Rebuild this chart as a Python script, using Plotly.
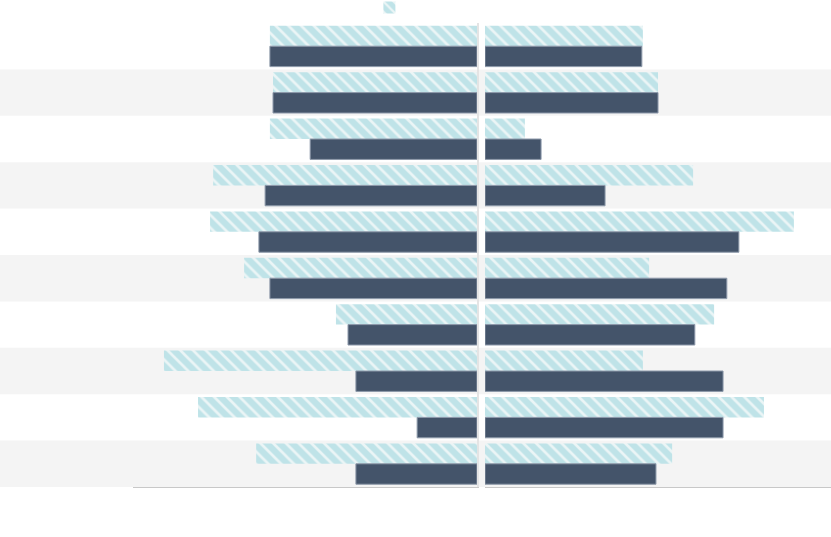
import plotly.graph_objects as go

# ---- data (no labels are shown in the chart) ----
categories = ["Row 1", "Row 2", "Row 3", "Row 4", "Row 5",
              "Row 6", "Row 7", "Row 8", "Row 9", "Row 10"]

left_hatched = [60.2, 59.3, 60.2, 76.7, 77.6, 67.7, 41.0, 91.0, 81.1, 64.2]
left_solid = [60.2, 59.3, 48.5, 61.6, 63.4, 60.2, 37.5, 35.2, 17.4, 35.2]
right_hatched = [45.9, 50.3, 11.6, 60.5, 89.8, 47.7, 66.6, 45.9, 81.1, 54.4]
right_solid = [45.6, 50.3, 16.3, 34.9, 73.8, 70.3, 61.0, 69.2, 69.2, 49.7]

# ---- styles ----
HATCH_BG = "#bfe3e8"
HATCH_FG = "#ebf5f6"
SOLID = "#44546a"
SOLID_LINE = "#8d99aa"
BAND = "#f4f4f4"
AXIS = "#c8c8c8"

W, H = 831, 537
T, B = 23, 50
PH = H - T - B

hatch_marker = dict(
    color=HATCH_BG,
    line=dict(width=0),
    pattern=dict(shape="\\", fillmode="replace", bgcolor=HATCH_BG,
                 fgcolor=HATCH_FG, size=9, solidity=0.3),
)
solid_marker = dict(color=SOLID, line=dict(color=SOLID_LINE, width=1))

fig = go.Figure()
fig.add_trace(go.Bar(y=categories, x=left_hatched, orientation="h",
                     marker=hatch_marker, xaxis="x", yaxis="y",
                     name="", showlegend=True, legendgroup="h"))
fig.add_trace(go.Bar(y=categories, x=left_solid, orientation="h",
                     marker=solid_marker, xaxis="x", yaxis="y",
                     name="", showlegend=False))
fig.add_trace(go.Bar(y=categories, x=right_hatched, orientation="h",
                     marker=hatch_marker, xaxis="x2", yaxis="y2",
                     name="", showlegend=False, legendgroup="h"))
fig.add_trace(go.Bar(y=categories, x=right_solid, orientation="h",
                     marker=solid_marker, xaxis="x2", yaxis="y2",
                     name="", showlegend=False))

# alternating row bands across the full width
shapes = []
for i in range(1, len(categories), 2):
    shapes.append(dict(type="rect", xref="paper", yref="y",
                       x0=-0.01, x1=1.01, y0=i - 0.5, y1=i + 0.5,
                       fillcolor=BAND, line=dict(width=0), layer="below"))

left_dom = [133 / W, 477 / W]
right_dom = [485 / W, 1.0]

fig.update_layout(
    width=W, height=H,
    margin=dict(l=0, r=0, t=T, b=B, pad=0, autoexpand=False),
    paper_bgcolor="white",
    plot_bgcolor="rgba(0,0,0,0)",
    barmode="group",
    bargap=0.12,
    bargroupgap=0,
    shapes=shapes,
    showlegend=True,
    legend=dict(orientation="h", x=0.4716, xanchor="center",
                y=1 + (T + 7) / PH, yanchor="top",
                font=dict(size=1, color="white"),
                bgcolor="rgba(0,0,0,0)"),
    xaxis=dict(domain=left_dom, range=[100, 0], showticklabels=False,
               showgrid=False, zeroline=False, showline=True,
               linecolor=AXIS, linewidth=1, ticks=""),
    xaxis2=dict(domain=right_dom, range=[0, 346 / 3.44], showticklabels=False,
                showgrid=False, zeroline=False, showline=True,
                linecolor=AXIS, linewidth=1, ticks="", anchor="y2"),
    yaxis=dict(domain=[0, 1], autorange="reversed", showticklabels=False,
               showgrid=False, zeroline=False, side="right", showline=True,
               linecolor="#e4e4e4", linewidth=2, ticks="", anchor="x"),
    yaxis2=dict(domain=[0, 1], matches="y", autorange="reversed",
                showticklabels=False, showgrid=False, zeroline=False,
                showline=False, ticks="", anchor="x2"),
)

fig.write_html(
    "out.html",
    config={"displayModeBar": False},
    post_script="document.body.style.margin='0';document.documentElement.style.margin='0';",
)
